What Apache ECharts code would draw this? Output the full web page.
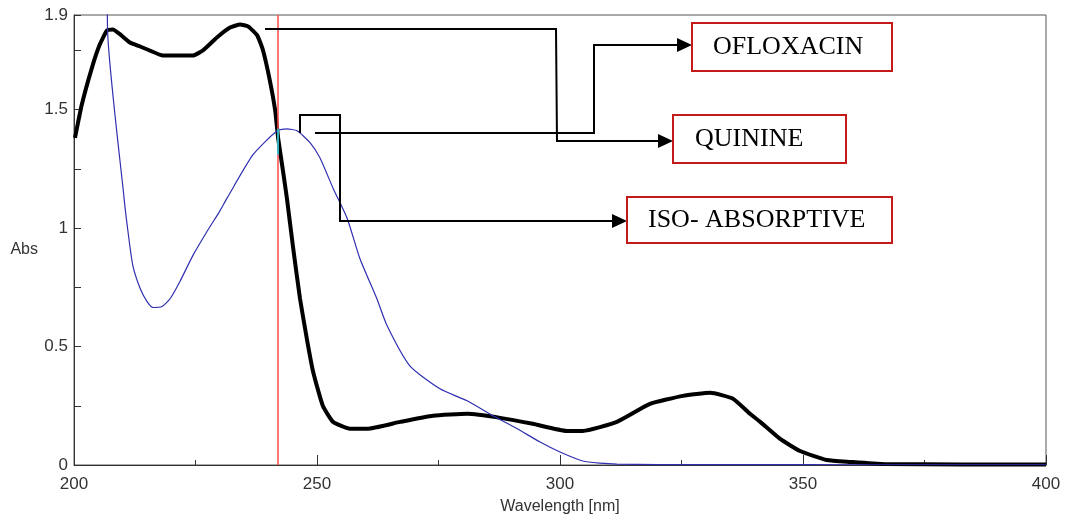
<!DOCTYPE html>
<html>
<head>
<meta charset="utf-8">
<title>Ofloxacin / Quinine overlay spectra</title>
<script src="https://cdn.jsdelivr.net/npm/echarts@6/dist/echarts.min.js"></script>
<style>
    html, body { margin: 0; padding: 0; background: #fff; }
    #spectrum-chart { width: 1065px; height: 520px; }
</style>
</head>
<body>
<div id="spectrum-chart"></div>
<script>
// values (wavelength in nm, absorbance)
var ofloxacinWl = [200.2, 201.6, 203.7, 205.3, 206.8, 208.0, 209.5, 211.5, 213.6, 215.6, 218.3, 224.5, 226.5, 229.4, 232.1, 234.2, 235.8, 237.7, 238.9, 240.3, 241.4, 242.0, 243.0, 243.8, 245.1, 246.5, 247.9, 249.2, 251.2, 253.3, 256.8, 260.3, 267.1, 273.9, 280.9, 287.7, 294.4, 301.4, 304.7, 311.7, 318.5, 325.3, 330.9, 335.6, 339.1, 341.2, 345.3, 349.4, 354.9, 359.7, 366.5, 400];
var ofloxacinAbs = [1.381, 1.521, 1.678, 1.775, 1.835, 1.839, 1.818, 1.784, 1.767, 1.750, 1.729, 1.729, 1.750, 1.805, 1.847, 1.860, 1.852, 1.814, 1.750, 1.623, 1.496, 1.381, 1.242, 1.127, 0.915, 0.703, 0.534, 0.394, 0.250, 0.182, 0.153, 0.153, 0.182, 0.208, 0.216, 0.199, 0.174, 0.144, 0.144, 0.182, 0.258, 0.292, 0.305, 0.280, 0.216, 0.182, 0.110, 0.059, 0.021, 0.013, 0.004, 0.002];

var quinineWl = [206.8, 206.9, 210.3, 211.1, 212.1, 213.6, 215.0, 216.3, 218.1, 219.8, 221.8, 224.5, 227.4, 230.0, 231.5, 236.8, 241.8, 243.8, 245.9, 248.6, 250.6, 253.3, 256.2, 258.8, 262.3, 264.4, 269.1, 275.3, 280.9, 286.2, 291.2, 295.9, 300.0, 304.7, 308.2, 311.7, 320, 340, 360, 400];
var quinineAbs = [2.3, 1.84, 1.127, 0.987, 0.843, 0.746, 0.691, 0.665, 0.669, 0.703, 0.775, 0.886, 0.987, 1.072, 1.127, 1.309, 1.411, 1.419, 1.411, 1.360, 1.297, 1.169, 1.042, 0.873, 0.703, 0.589, 0.419, 0.322, 0.271, 0.208, 0.153, 0.097, 0.055, 0.017, 0.008, 0.004, 0.002, 0.002, 0.001, 0.001];

var isoWl = 242;
var xTicks = [200, 250, 300, 350, 400];
var yTicks = [0, 0.5, 1, 1.5, 1.9];

function pairs(xs, ys) {
    var out = [];
    for (var i = 0; i < xs.length; i++) {
        out.push([xs[i], ys[i]]);
    }
    return out;
}

// little helper for the callout arrows (pixel space, they are annotations)
function arrowHead(tipX, y) {
    return {
        type: 'polygon',
        shape: { points: [[tipX - 15, y - 7], [tipX, y], [tipX - 15, y + 7]] },
        style: { fill: '#000' },
        z: 100
    };
}
function wire(points) {
    return {
        type: 'polyline',
        shape: { points: points },
        style: { stroke: '#000', lineWidth: 2, fill: null },
        z: 100
    };
}
function tagBox(x, y, w, h, label, textX) {
    return [
        {
            type: 'rect',
            shape: { x: x, y: y, width: w, height: h },
            style: { fill: '#fff', stroke: '#c41a1a', lineWidth: 2 },
            z: 100
        },
        {
            type: 'text',
            x: textX,
            y: y + h / 2,
            style: {
                text: label,
                font: '26px "Liberation Serif", "Times New Roman", serif',
                fill: '#000',
                verticalAlign: 'middle'
            },
            z: 101
        }
    ];
}

var chart = echarts.init(document.getElementById('spectrum-chart'));

var annotations = [].concat(
    [wire([[265, 29], [556, 29], [557, 141], [660, 141]]), arrowHead(673, 141)],
    [wire([[315, 133], [594, 133], [594, 45], [679, 45]]), arrowHead(692, 45)],
    [wire([[300, 133], [300, 115], [340, 115], [340, 221], [614, 221]]), arrowHead(627, 221)],
    tagBox(692, 23, 200, 48, 'OFLOXACIN', 713),
    tagBox(673, 115, 173, 48, 'QUININE', 695),
    tagBox(627, 197, 265, 46, 'ISO- ABSORPTIVE', 648)
);

var option = {
    animation: false,
    backgroundColor: '#fff',
    textStyle: { fontFamily: '"Liberation Sans", Arial, sans-serif' },
    grid: {
        left: 74,
        right: 19,
        top: 15,
        bottom: 54,
        show: true,
        borderColor: '#555',
        borderWidth: 1
    },
    xAxis: {
        type: 'value',
        min: 200,
        max: 400,
        interval: 50,
        name: 'Wavelength [nm]',
        nameLocation: 'middle',
        nameGap: 34,
        nameTextStyle: { fontSize: 16, color: '#333' },
        axisLine: { lineStyle: { color: '#333', width: 1 } },
        axisTick: { inside: true, length: 10, lineStyle: { color: '#333' } },
        minorTick: { show: true, splitNumber: 2, length: 5, lineStyle: { color: '#333' } },
        splitLine: { show: false },
        axisLabel: {
            fontSize: 17,
            color: '#333',
            margin: 11,
            formatter: function (v) {
                return xTicks.indexOf(v) >= 0 ? String(v) : '';
            }
        }
    },
    yAxis: {
        type: 'value',
        min: 0,
        max: 1.9,
        interval: 0.25,
        name: 'Abs',
        nameLocation: 'middle',
        nameRotate: 0,
        nameGap: 36,
        nameTextStyle: { fontSize: 16, color: '#333', verticalAlign: 'top', padding: [2, 0, 0, 0] },
        axisLine: { show: true, lineStyle: { color: '#333', width: 1 } },
        axisTick: { show: true, inside: true, length: 7, lineStyle: { color: '#333' } },
        splitLine: { show: false },
        axisLabel: {
            fontSize: 17,
            color: '#333',
            margin: 6,
            showMaxLabel: true,
            formatter: function (v) {
                for (var i = 0; i < yTicks.length; i++) {
                    if (Math.abs(yTicks[i] - v) < 1e-6) return String(yTicks[i]);
                }
                return '';
            }
        }
    },
    series: [
        {
            name: 'Ofloxacin',
            type: 'line',
            data: pairs(ofloxacinWl, ofloxacinAbs),
            smooth: 0.15,
            showSymbol: false,
            clip: true,
            lineStyle: { color: '#000', width: 4 },
            z: 3,
            markLine: {
                silent: true,
                symbol: ['none', 'none'],
                label: { show: false },
                lineStyle: { color: '#ff4a4a', width: 1.5, type: 'solid' },
                data: [
                    { xAxis: isoWl },
                    [
                        { coord: [isoWl, 1.42], lineStyle: { color: '#00d8e0', width: 1.5, type: 'solid' } },
                        { coord: [isoWl, 1.31] }
                    ]
                ]
            }
        },
        {
            name: 'Quinine',
            type: 'line',
            data: pairs(quinineWl, quinineAbs),
            smooth: 0.2,
            showSymbol: false,
            clip: true,
            lineStyle: { color: '#2f2fb0', width: 1.2 },
            z: 4
        }
    ],
    graphic: annotations
};

chart.setOption(option);

window.onresize = chart.resize;
</script>
</body>
</html>
